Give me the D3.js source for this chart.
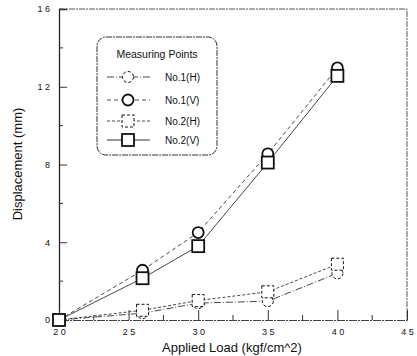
<!DOCTYPE html>
<html>
<head>
<meta charset="utf-8">
<script src="https://cdn.jsdelivr.net/npm/d3@7"></script>
<style>
  body { margin: 0; background: #fff; }
  svg text { font-family: "Liberation Sans", Arial, sans-serif; fill: #111; }
</style>
</head>
<body>
<script>
// chart data
var loads = [20, 26, 30, 35, 40];
var no1H = [0, 0.35, 0.87, 0.97, 2.4];
var no1V = [0, 2.56, 4.5, 8.55, 12.97];
var no2H = [0, 0.5, 1.0, 1.45, 2.87];
var no2V = [0, 2.15, 3.8, 8.1, 12.56];
var seriesNames = ["No.1(H)", "No.1(V)", "No.2(H)", "No.2(V)"];
var xTicks = [20, 25, 30, 35, 40, 45];
var yTicks = [0, 4, 8, 12, 16];

var width = 417, height = 356;
var svg = d3.select("body").append("svg")
    .attr("width", width)
    .attr("height", height);

var x = d3.scaleLinear().domain([20, 45]).range([59, 407]);
var y = d3.scaleLinear().domain([0, 16]).range([320, 9]);

// frame (top + right borders are faint dashed in the scan)
svg.append("path")
    .attr("d", "M" + x(20) + "," + y(16) + "H" + x(45) + "V" + y(0))
    .attr("fill", "none")
    .attr("stroke", "#555")
    .attr("stroke-width", 1)
    .attr("stroke-dasharray", "6,1,2,1");

// left axis
var yAxis = d3.axisLeft(y).tickValues(yTicks).tickSize(-8).tickPadding(9)
    .tickFormat(function(d){ return String(d).split("").join(" "); });
var gy = svg.append("g").attr("transform", "translate(" + x(20) + ",0)").call(yAxis);
gy.select(".domain").attr("stroke", "#222").attr("stroke-width", 1.3);
gy.selectAll(".tick line").attr("stroke", "#333");
gy.selectAll(".tick text").attr("font-size", 9).style("font-family", "Liberation Sans, Arial, sans-serif");
// minor y ticks
svg.selectAll(".ymin").data([2, 6, 10, 14]).enter().append("line")
    .attr("x1", x(20)).attr("x2", x(20) + 4)
    .attr("y1", function(d){ return y(d); }).attr("y2", function(d){ return y(d); })
    .attr("stroke", "#333");

// bottom axis
var xAxis = d3.axisBottom(x).tickValues(xTicks).tickSize(-10).tickPadding(9)
    .tickFormat(function(d){ return String(d).split("").join(" "); });
var gx = svg.append("g").attr("transform", "translate(0," + y(0) + ")").call(xAxis);
gx.select(".domain").attr("stroke", "#444").attr("stroke-width", 1).attr("stroke-dasharray", "8,1,2,1");
gx.selectAll(".tick line").attr("stroke", "#333");
gx.selectAll(".tick text").attr("font-size", 9).style("font-family", "Liberation Sans, Arial, sans-serif");
svg.selectAll(".xmin").data([22.5, 27.5, 32.5, 37.5, 42.5]).enter().append("line")
    .attr("x1", function(d){ return x(d); }).attr("x2", function(d){ return x(d); })
    .attr("y1", y(0)).attr("y2", y(0) - 5)
    .attr("stroke", "#333");

// axis titles
svg.append("text")
    .attr("x", 232).attr("y", 352)
    .attr("text-anchor", "middle")
    .attr("font-size", 13)
    .text("Applied Load (kgf/cm^2)");
svg.append("text")
    .attr("transform", "translate(22,164) rotate(-90)")
    .attr("text-anchor", "middle")
    .attr("font-size", 13)
    .text("Displacement (mm)");

// series
var series = [
    {name: seriesNames[0], vals: no1H, shape: "circle", dash: "7,2,1,2", mdash: "3,2", sw: 1},
    {name: seriesNames[1], vals: no1V, shape: "circle", dash: "4,3", mdash: null, sw: 1.8},
    {name: seriesNames[2], vals: no2H, shape: "square", dash: "3,2", mdash: "3,2", sw: 1},
    {name: seriesNames[3], vals: no2V, shape: "square", dash: null, mdash: null, sw: 1.8}
];

var line = d3.line()
    .x(function(d){ return x(d[0]); })
    .y(function(d){ return y(d[1]); });

function drawMarker(g, s, cx, cy) {
    if (s.shape === "circle") {
        g.append("circle").attr("cx", cx).attr("cy", cy).attr("r", 5.5)
            .attr("fill", "#fff").attr("stroke", "#111")
            .attr("stroke-width", s.sw).attr("stroke-dasharray", s.mdash);
    } else {
        g.append("rect").attr("x", cx - 6).attr("y", cy - 6).attr("width", 12).attr("height", 12)
            .attr("fill", "#fff").attr("stroke", "#111")
            .attr("stroke-width", s.sw).attr("stroke-dasharray", s.mdash);
    }
}

series.forEach(function(s){
    var pts = loads.map(function(l, i){ return [l, s.vals[i]]; });
    svg.append("path").datum(pts)
        .attr("d", line)
        .attr("fill", "none")
        .attr("stroke", "#333")
        .attr("stroke-width", 0.9)
        .attr("stroke-dasharray", s.dash);
});
series.forEach(function(s){
    var g = svg.append("g");
    loads.forEach(function(l, i){
        if (i === 0 && s.shape === "circle") return;
        drawMarker(g, s, x(l), y(s.vals[i]));
    });
});

// legend
var lg = svg.append("g");
lg.append("rect")
    .attr("x", 97).attr("y", 37).attr("width", 120).attr("height", 118)
    .attr("rx", 9)
    .attr("fill", "#fff")
    .attr("stroke", "#333")
    .attr("stroke-width", 1)
    .attr("stroke-dasharray", "6,1,2,1");
lg.append("text")
    .attr("x", 157).attr("y", 58)
    .attr("text-anchor", "middle")
    .attr("font-size", 10.5)
    .text("Measuring Points");
var legY = [77, 100, 121, 140];
series.forEach(function(s, i){
    lg.append("line")
        .attr("x1", 107).attr("x2", 150)
        .attr("y1", legY[i]).attr("y2", legY[i])
        .attr("stroke", i === 3 ? "#777" : "#333")
        .attr("stroke-width", i === 3 ? 1.6 : 0.9)
        .attr("stroke-dasharray", s.dash);
    drawMarker(lg, s, 128, legY[i]);
    lg.append("text")
        .attr("x", 165).attr("y", legY[i] + 3.5)
        .attr("font-size", 10)
        .text(s.name);
});
</script>
</body>
</html>
